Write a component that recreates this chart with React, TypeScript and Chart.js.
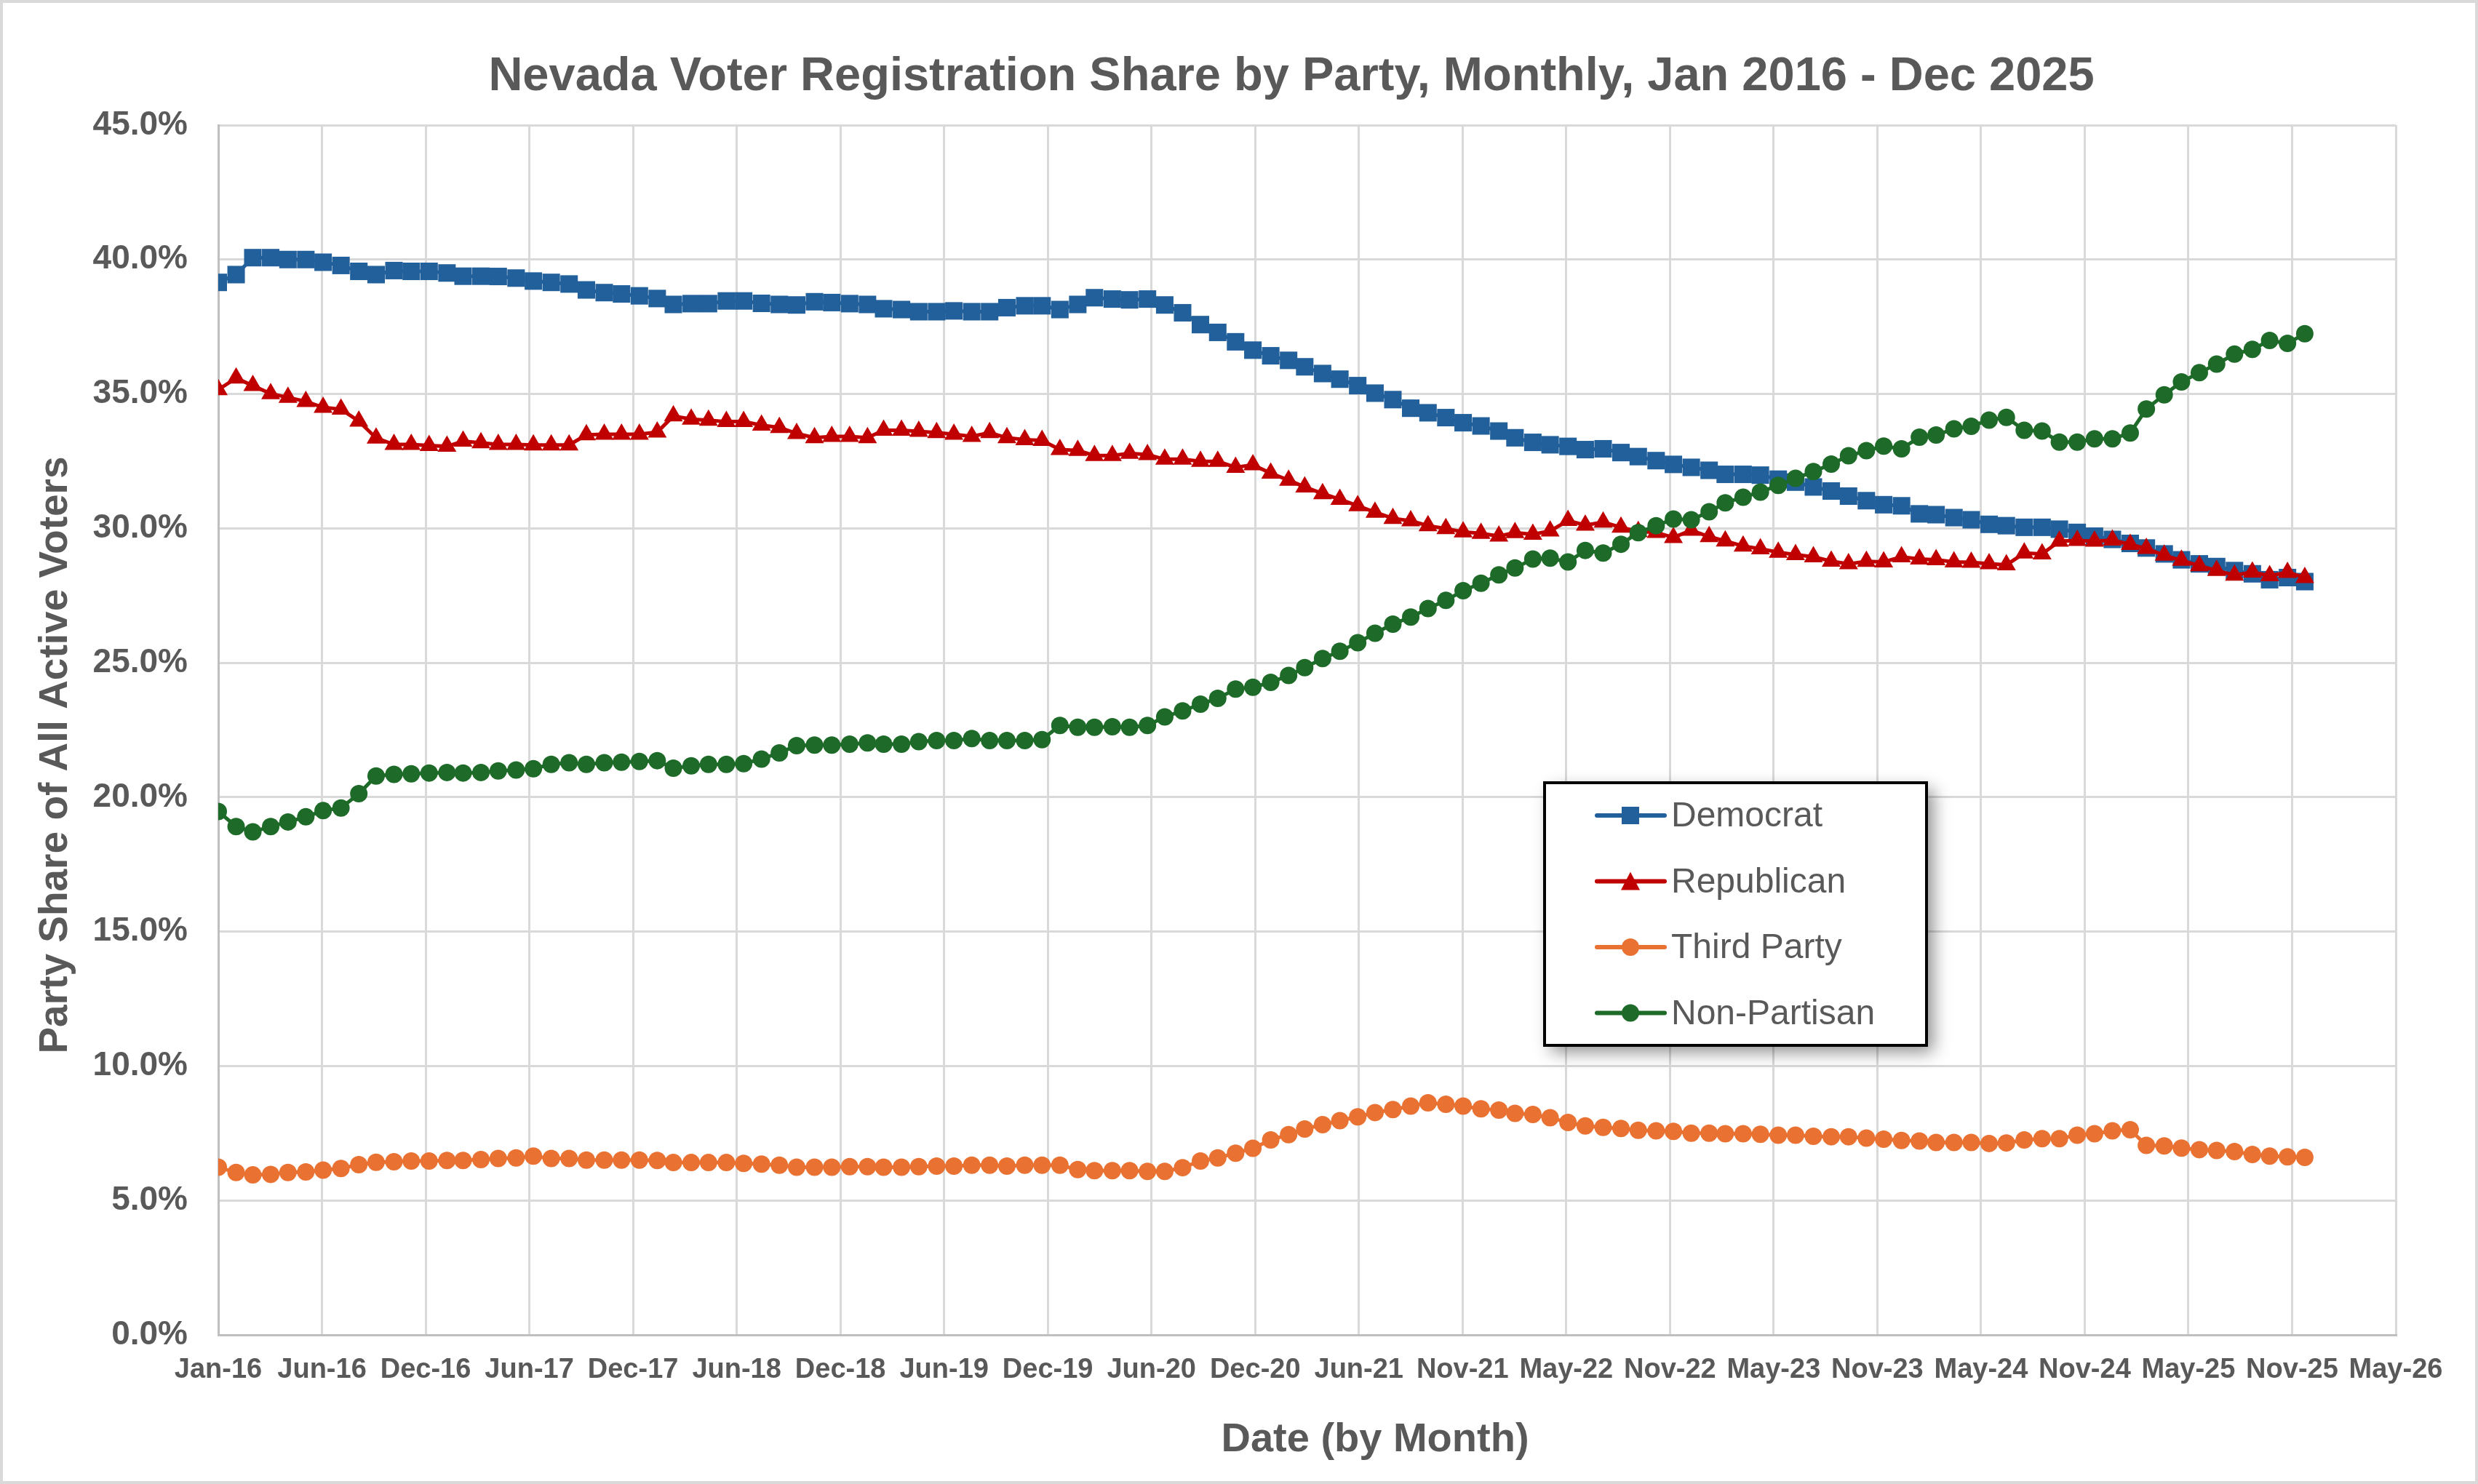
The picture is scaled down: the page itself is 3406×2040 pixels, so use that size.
import { useEffect, useRef } from 'react';
import { Chart, registerables } from 'chart.js';

Chart.register(...registerables);

// months Jan 2016 .. Dec 2025, one row per year
const startYear = 2016;
const yearCount = 10;

const xTickLabels = [
  'Jan-16', 'Jun-16', 'Dec-16', 'Jun-17', 'Dec-17', 'Jun-18', 'Dec-18', 'Jun-19', 'Dec-19', 'Jun-20', 'Dec-20',
  'Jun-21', 'Nov-21', 'May-22', 'Nov-22', 'May-23', 'Nov-23', 'May-24', 'Nov-24', 'May-25', 'Nov-25', 'May-26',
];
const tickStepDays = 180;

const democrat = [
  39.15, 39.44, 40.07, 40.07, 40.0, 40.0, 39.9, 39.78, 39.56, 39.44, 39.59, 39.56,
  39.56, 39.5, 39.38, 39.38, 39.37, 39.31, 39.2, 39.15, 39.09, 38.87, 38.77, 38.72,
  38.65, 38.55, 38.33, 38.36, 38.36, 38.46, 38.46, 38.37, 38.33, 38.31, 38.43, 38.4,
  38.36, 38.33, 38.17, 38.14, 38.06, 38.06, 38.09, 38.06, 38.06, 38.21, 38.28, 38.28,
  38.14, 38.33, 38.58, 38.53, 38.5, 38.53, 38.31, 38.02, 37.58, 37.29, 36.94, 36.63,
  36.42, 36.25, 36.01, 35.76, 35.55, 35.31, 35.03, 34.79, 34.47, 34.3, 34.12, 33.93,
  33.81, 33.62, 33.37, 33.2, 33.11, 33.05, 32.93, 32.96, 32.82, 32.67, 32.52, 32.38,
  32.27, 32.16, 32.01, 32.01, 31.98, 31.83, 31.72, 31.54, 31.39, 31.2, 31.03, 30.88,
  30.84, 30.54, 30.51, 30.4, 30.32, 30.15, 30.1, 30.04, 30.04, 29.97, 29.85, 29.71,
  29.59, 29.44, 29.27, 29.05, 28.83, 28.68, 28.58, 28.43, 28.31, 28.09, 28.17, 28.02,
];

const republican = [
  35.16, 35.59, 35.31, 35.01, 34.87, 34.72, 34.5, 34.43, 33.99, 33.36, 33.12, 33.12,
  33.08, 33.05, 33.24, 33.18, 33.12, 33.12, 33.1, 33.1, 33.1, 33.48, 33.5, 33.5,
  33.5, 33.58, 34.18, 34.06, 34.02, 33.97, 33.97, 33.84, 33.75, 33.53, 33.37, 33.42,
  33.42, 33.37, 33.65, 33.65, 33.61, 33.56, 33.5, 33.42, 33.56, 33.37, 33.3, 33.27,
  32.93, 32.9, 32.71, 32.71, 32.79, 32.74, 32.57, 32.57, 32.49, 32.49, 32.27, 32.36,
  32.05, 31.79, 31.54, 31.29, 31.08, 30.84, 30.6, 30.37, 30.28, 30.1, 29.99, 29.87,
  29.81, 29.71, 29.84, 29.78, 29.9, 30.29, 30.12, 30.23, 30.04, 29.88, 29.85, 29.66,
  29.93, 29.69, 29.53, 29.34, 29.24, 29.11, 29.02, 28.94, 28.78, 28.68, 28.77, 28.75,
  28.94, 28.86, 28.83, 28.75, 28.74, 28.68, 28.64, 29.08, 29.05, 29.52, 29.55, 29.52,
  29.56, 29.4, 29.25, 29.0, 28.81, 28.61, 28.43, 28.26, 28.37, 28.24, 28.36, 28.17,
];

const thirdParty = [
  6.24, 6.04, 5.95, 5.97, 6.04, 6.06, 6.13, 6.19, 6.33, 6.42, 6.44, 6.47,
  6.47, 6.49, 6.49, 6.52, 6.56, 6.58, 6.65, 6.56, 6.56, 6.5, 6.5, 6.5,
  6.5, 6.49, 6.41, 6.41, 6.41, 6.41, 6.38, 6.35, 6.31, 6.24, 6.24, 6.24,
  6.26, 6.26, 6.24, 6.24, 6.26, 6.28, 6.28, 6.31, 6.31, 6.28, 6.31, 6.31,
  6.31, 6.15, 6.11, 6.11, 6.11, 6.08, 6.08, 6.22, 6.47, 6.58, 6.76, 6.94,
  7.25, 7.45, 7.66, 7.82, 7.97, 8.11, 8.27, 8.38, 8.51, 8.63, 8.58, 8.51,
  8.41, 8.36, 8.24, 8.2, 8.08, 7.9, 7.77, 7.72, 7.68, 7.61, 7.59, 7.57,
  7.5, 7.5, 7.48, 7.48, 7.46, 7.43, 7.43, 7.39, 7.37, 7.37, 7.32, 7.28,
  7.23, 7.21, 7.16, 7.16, 7.16, 7.12, 7.14, 7.25, 7.3, 7.3, 7.43, 7.48,
  7.59, 7.63, 7.05, 7.03, 6.95, 6.89, 6.86, 6.82, 6.71, 6.65, 6.62, 6.6,
];

const nonPartisan = [
  19.47, 18.91, 18.71, 18.91, 19.08, 19.27, 19.5, 19.6, 20.13, 20.79, 20.85, 20.87,
  20.9, 20.92, 20.9, 20.92, 20.98, 21.01, 21.06, 21.22, 21.28, 21.22, 21.28, 21.3,
  21.33, 21.36, 21.08, 21.17, 21.22, 21.22, 21.25, 21.42, 21.65, 21.92, 21.94, 21.94,
  21.97, 22.02, 21.97, 21.97, 22.07, 22.11, 22.11, 22.18, 22.11, 22.11, 22.11, 22.14,
  22.67, 22.6, 22.6, 22.62, 22.6, 22.67, 22.99, 23.21, 23.46, 23.68, 24.02, 24.09,
  24.27, 24.53, 24.82, 25.16, 25.43, 25.75, 26.1, 26.44, 26.7, 27.02, 27.32, 27.68,
  27.96, 28.27, 28.53, 28.86, 28.89, 28.75, 29.18, 29.08, 29.41, 29.84, 30.1, 30.35,
  30.32, 30.62, 30.95, 31.16, 31.35, 31.6, 31.86, 32.11, 32.39, 32.7, 32.89, 33.06,
  32.96, 33.39, 33.47, 33.7, 33.8, 34.03, 34.13, 33.65, 33.62, 33.21, 33.21, 33.33,
  33.33, 33.55, 34.44, 34.97, 35.45, 35.79, 36.11, 36.48, 36.66, 36.99, 36.88, 37.24,
];

const GRAY_TEXT = '#595959';
const FONT = "'Liberation Sans', Arial, sans-serif";

// days since 1 Jan 2016 for the 1st of each month
const dayOffsets: number[] = [];
for (let y = 0; y < yearCount; y++) {
  for (let m = 0; m < 12; m++) {
    dayOffsets.push((Date.UTC(startYear + y, m, 1) - Date.UTC(startYear, 0, 1)) / 86400000);
  }
}
const toPoints = (vals: number[]) => vals.map((v, i) => ({ x: dayOffsets[i], y: v }));

function drawMarker(ctx: CanvasRenderingContext2D, style: string, x: number, y: number, color: string) {
  ctx.fillStyle = color;
  ctx.beginPath();
  if (style === 'rect') {
    ctx.rect(x - 12, y - 12, 24, 24);
  } else if (style === 'triangle') {
    ctx.moveTo(x, y - 13);
    ctx.lineTo(x + 13, y + 12);
    ctx.lineTo(x - 13, y + 12);
    ctx.closePath();
  } else {
    ctx.arc(x, y, 12, 0, Math.PI * 2);
  }
  ctx.fill();
}

const framePlugin = {
  id: 'frame',
  beforeDraw(chart: any) {
    const { ctx, width, height } = chart;
    ctx.save();
    ctx.fillStyle = '#ffffff';
    ctx.fillRect(0, 0, width, height);
    ctx.strokeStyle = '#d9d9d9';
    ctx.lineWidth = 4;
    ctx.strokeRect(2, 2, width - 4, height - 4);
    ctx.restore();
  },
};

// titles sit off-centre in the original, so they are placed by hand
const titlesPlugin = {
  id: 'titles',
  afterDraw(chart: any) {
    const { ctx } = chart;
    ctx.save();
    ctx.fillStyle = GRAY_TEXT;
    ctx.textAlign = 'center';
    ctx.textBaseline = 'middle';
    ctx.font = `bold 65px ${FONT}`;
    ctx.fillText('Nevada Voter Registration Share by Party, Monthly, Jan 2016 - Dec 2025', 1775, 106);
    ctx.font = `bold 56px ${FONT}`;
    ctx.fillText('Date (by Month)', 1890, 1980);
    ctx.translate(74, 1038);
    ctx.rotate(-Math.PI / 2);
    ctx.font = `bold 55px ${FONT}`;
    ctx.fillText('Party Share of All Active Voters', 0, 3);
    ctx.restore();
  },
};

const boxLegendPlugin = {
  id: 'boxLegend',
  afterDraw(chart: any) {
    const { ctx } = chart;
    const left = 2123;
    const top = 1076;
    const w = 525;
    const h = 361;
    ctx.save();
    ctx.shadowColor = 'rgba(0,0,0,0.45)';
    ctx.shadowBlur = 22;
    ctx.shadowOffsetX = 9;
    ctx.shadowOffsetY = 9;
    ctx.fillStyle = '#ffffff';
    ctx.fillRect(left, top, w, h);
    ctx.restore();

    ctx.save();
    ctx.strokeStyle = '#000000';
    ctx.lineWidth = 4;
    ctx.strokeRect(left, top, w, h);
    chart.data.datasets.forEach((ds: any, i: number) => {
      const y = top + 45 + i * 90.5;
      ctx.strokeStyle = ds.borderColor;
      ctx.lineWidth = 6;
      ctx.lineCap = 'round';
      ctx.beginPath();
      ctx.moveTo(left + 72, y);
      ctx.lineTo(left + 165, y);
      ctx.stroke();
      drawMarker(ctx, ds.pointStyle, left + 118, y, ds.borderColor);
      ctx.fillStyle = GRAY_TEXT;
      ctx.font = `48px ${FONT}`;
      ctx.textAlign = 'left';
      ctx.textBaseline = 'middle';
      ctx.fillText(ds.label, left + 174, y + 2);
    });
    ctx.restore();
  },
};

export default function App() {
  const chartRef = useRef<HTMLCanvasElement>(null);
  const chartInstance = useRef<Chart | null>(null);

  useEffect(() => {
    if (!chartRef.current) return;
    if (chartInstance.current) chartInstance.current.destroy();

    const series = [
      { label: 'Democrat', data: democrat, color: '#22609c', style: 'rect', radius: 17, order: 4 },
      { label: 'Republican', data: republican, color: '#c00000', style: 'triangle', radius: 15, order: 3 },
      { label: 'Third Party', data: thirdParty, color: '#e97132', style: 'circle', radius: 12, order: 2 },
      { label: 'Non-Partisan', data: nonPartisan, color: '#1e6b29', style: 'circle', radius: 12, order: 1 },
    ];

    chartInstance.current = new Chart(chartRef.current, {
      type: 'line',
      data: {
        datasets: series.map((s) => ({
          label: s.label,
          data: toPoints(s.data),
          borderColor: s.color,
          backgroundColor: s.color,
          borderWidth: 5,
          pointStyle: s.style,
          pointRadius: s.radius,
          pointBackgroundColor: s.color,
          pointBorderColor: s.color,
          pointBorderWidth: 0,
          tension: 0,
          order: s.order,
        })),
      },
      options: {
        animation: false,
        responsive: true,
        maintainAspectRatio: false,
        layout: { padding: { left: 0, right: 113, top: 172, bottom: 0 } },
        scales: {
          x: {
            type: 'linear',
            min: 0,
            max: tickStepDays * (xTickLabels.length - 1),
            afterFit: (scale: any) => {
              scale.height = 205;
            },
            grid: { color: '#d9d9d9', lineWidth: 3, drawTicks: false },
            border: { color: '#bfbfbf', width: 3 },
            ticks: {
              stepSize: tickStepDays,
              autoSkip: false,
              maxRotation: 0,
              padding: 26,
              color: GRAY_TEXT,
              font: { family: FONT, size: 38, weight: 'bold' },
              callback: (v: any) => xTickLabels[Math.round(Number(v) / tickStepDays)] ?? '',
            },
          },
          y: {
            min: 0,
            max: 45,
            afterFit: (scale: any) => {
              scale.width = 300;
            },
            grid: { color: '#d9d9d9', lineWidth: 3, drawTicks: false },
            border: { color: '#bfbfbf', width: 3 },
            ticks: {
              stepSize: 5,
              padding: 42,
              color: GRAY_TEXT,
              font: { family: FONT, size: 46, weight: 'bold' },
              callback: (v: any) => Number(v).toFixed(1) + '%',
            },
          },
        },
        plugins: {
          legend: { display: false },
          tooltip: { enabled: false },
          title: { display: false },
        },
      },
      plugins: [framePlugin, titlesPlugin, boxLegendPlugin],
    } as any);

    return () => {
      if (chartInstance.current) {
        chartInstance.current.destroy();
        chartInstance.current = null;
      }
    };
  }, []);

  return (
    <div style={{ position: 'fixed', left: 0, top: 0, width: '3406px', height: '2040px', background: '#ffffff' }}>
      <canvas ref={chartRef} />
    </div>
  );
}
